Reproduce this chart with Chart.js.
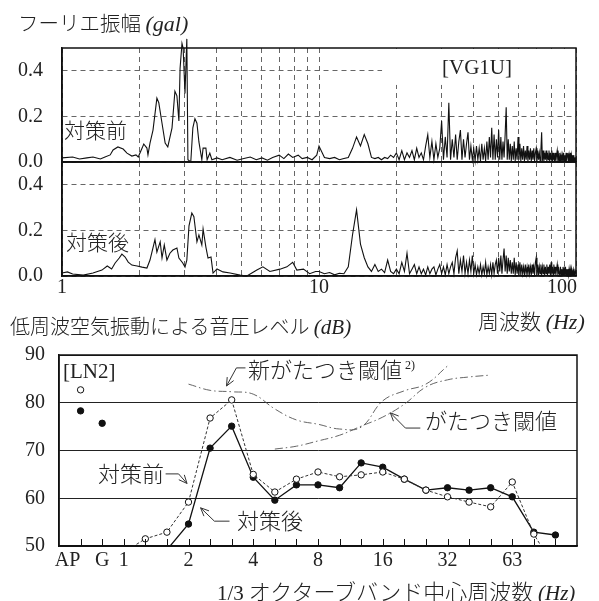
<!DOCTYPE html>
<html><head><meta charset="utf-8">
<script src="https://cdn.jsdelivr.net/npm/chart.js@4.4.0/dist/chart.umd.min.js"></script>
<style>
html,body{margin:0;padding:0;background:#fff;}
body{width:599px;height:601px;position:relative;overflow:hidden;}
canvas{position:absolute;left:0;}
.t{position:absolute;white-space:nowrap;color:#222;font-family:"Noto Sans CJK JP",sans-serif;font-weight:300;line-height:1;}
.i{font-family:"Liberation Serif",serif;font-style:italic;}
.n{font-family:"Liberation Serif",serif;}
</style></head><body>
<canvas id="c1" width="599" height="178" style="top:0px"></canvas>
<canvas id="c2" width="599" height="160" style="top:140px"></canvas>
<canvas id="c3" width="599" height="271" style="top:330px"></canvas>

<div class="t" style="left:18px;top:12px;font-size:20.5px">フーリエ振幅 <span class="i" style="font-size:22px">(gal)</span></div>
<div class="t" style="left:64px;top:119px;font-size:21px">対策前</div>
<div class="t" style="left:66px;top:231px;font-size:21px">対策後</div>
<div class="t n" style="left:442px;top:57px;font-size:21px">[VG1U]</div>
<div class="t" style="left:478px;top:310px;font-size:21px">周波数 <span class="i" style="font-size:22px">(Hz)</span></div>
<div class="t" style="left:10px;top:316px;font-size:20px">低周波空気振動による音圧レベル <span class="i" style="font-size:21px">(dB)</span></div>
<div class="t n" style="left:63px;top:361px;font-size:21px">[LN2]</div>
<div class="t" style="left:248px;top:357px;font-size:22px">新がたつき閾値<span class="n" style="font-size:12px;position:relative;top:-9px;margin-left:3px">2)</span></div>
<div class="t" style="left:425px;top:408px;font-size:22px">がたつき閾値</div>
<div class="t" style="left:98px;top:461px;font-size:22px">対策前</div>
<div class="t" style="left:237px;top:508px;font-size:22px">対策後</div>
<div class="t" style="left:217px;top:579px;font-size:22px"><span class="n" style="font-size:21px">1/3</span> オクターブバンド中心周波数 <span class="i" style="font-size:21px">(Hz)</span></div>

<script>
// ---------- Fourier spectrum data (gal) ----------
const logGridHz = [1,2,3,4,5,6,7,8,9,10,20,30,40,50,60,70,80,90,100];
const freqTickLabels = [1, 10, 100];
const ampTicks = [0, 0.2, 0.4];
const hiStartHz = 10;     // dense part sampled at a fixed step
const hiStepHz = 0.5;

// before countermeasure (対策前), 1-10 Hz
const lowFreqBefore = [1.0,1.1,1.17,1.25,1.32,1.41,1.47,1.54,1.58,1.65,
  1.73,1.79,1.87,1.94,1.98,2.05,2.08,2.14,2.16,2.2,
  2.26,2.34,2.38,2.45,2.52,2.58,2.68,2.75,2.8,2.85,
  2.88,2.93,2.96,3.01,3.06,3.09,3.17,3.23,3.29,3.35,
  3.41,3.5,3.54,3.63,3.67,3.76,3.83,4.01,4.2,4.5,
  4.8,5.1,5.4,5.7,6.0,6.3,6.6,7.0,7.3,7.6,
  7.9,8.3,8.6,9.0,9.4,9.8];
const lowAmpBefore = [.018,.022,.013,.018,.022,.013,.022,.031,.053,.066,
  .057,.039,.026,.031,.022,.061,.079,.061,.031,.083,
  .14,.28,.26,.17,.083,.066,.15,.31,.29,.18,
  .41,.52,.50,.30,.54,.01,0,.15,.19,.17,
  .088,.01,.061,.061,.01,.039,.01,.018,.01,.02,
  .008,.015,.022,.01,.018,.008,.02,.03,.015,.035,
  .02,.03,.015,.02,.01,.03];
// before, 10-100 Hz every 0.5 Hz
const hiAmpBefore = [
  .07,.02,.015,.02,.01,.015,.02,.06,.11,.07,
  .12,.08,.02,.015,.02,.01,.02,.015,.03,.02,
  .04,.01,.05,.01,.04,.02,.05,.01,.06,.02,
  .04,.01,.07,.12,.02,.09,.01,.08,.02,.06,
  .18,.01,.11,.02,.26,.01,.10,.02,.12,.01,
  .09,.14,.01,.10,.02,.08,.13,.01,.07,.01,
  .06,.005,.07,.01,.06,.005,.08,.01,.06,.005,
  .09,.01,.11,.02,.15,.01,.12,.01,.10,.02,
  .14,.01,.11,.01,.09,.02,.12,.24,.01,.10,
  .01,.08,.005,.07,.01,.09,.005,.06,.01,.11,
  .01,.08,.005,.06,.01,.07,.005,.05,.01,.07,
  .005,.05,.01,.06,.005,.05,.01,.06,.005,.04,
  .06,.005,.05,.01,.04,.005,.05,.13,.005,.05,
  .005,.04,.01,.05,.005,.04,.01,.05,.005,.04,
  .01,.05,.005,.04,.01,.005,.04,.005,.03,.05,
  .005,.03,.005,.04,.005,.03,.005,.03,.005,.04,
  .005,.03,.005,.04,.005,.03,.04,.005,.03,.005,
  .04,.005,.03,.005,.03,.005,.03,.005,.02,.005,
  .02];

// after countermeasure (対策後), 1-10 Hz
const lowFreqAfter = [1.0,1.05,1.1,1.21,1.32,1.43,1.5,1.56,1.61,1.67,
  1.71,1.76,1.81,1.87,1.96,2.05,2.14,2.2,2.3,2.34,
  2.41,2.45,2.5,2.56,2.63,2.7,2.8,2.85,2.95,3.01,
  3.06,3.12,3.2,3.26,3.35,3.41,3.5,3.54,3.63,3.7,
  3.8,3.87,4.01,4.23,4.51,4.93,5.24,5.48,5.73,6.05,
  6.44,7.05,7.5,7.9,8.2,8.7,9.2,9.7];
const lowAmpAfter = [.013,.018,.009,.004,.013,.026,.044,.031,.057,.079,
  .096,.083,.061,.048,.044,.039,.035,.07,.16,.105,
  .15,.079,.136,.07,.10,.114,.123,.079,.057,.039,
  .07,.22,.276,.26,.15,.18,.136,.206,.127,.079,
  .083,.013,.031,.018,.013,.004,0,.013,.026,.04,
  .02,.03,.04,.06,.026,.03,.01,.02];
// after, 10-100 Hz every 0.5 Hz
const hiAmpAfter = [
  .02,.01,.015,.005,.012,.01,.04,.18,.29,.14,
  .08,.04,.02,.05,.02,.03,.015,.07,.02,.01,
  .03,.01,.06,.02,.10,.01,.03,.05,.01,.04,
  .01,.03,.005,.04,.01,.03,.04,.005,.03,.05,
  .01,.04,.005,.05,.01,.04,.06,.01,.08,.11,
  .01,.07,.02,.09,.01,.06,.01,.07,.02,.09,
  .01,.05,.005,.04,.01,.05,.005,.04,.01,.06,
  .005,.04,.01,.05,.005,.06,.01,.05,.07,.01,
  .08,.02,.09,.01,.07,.12,.02,.09,.01,.08,
  .02,.07,.01,.06,.01,.08,.005,.06,.01,.05,
  .005,.06,.005,.05,.01,.04,.005,.05,.01,.04,
  .005,.05,.01,.04,.005,.05,.01,.04,.005,.06,
  .08,.005,.05,.005,.04,.01,.05,.005,.04,.01,
  .05,.005,.04,.01,.05,.005,.04,.01,.05,.005,
  .06,.01,.04,.005,.05,.01,.04,.005,.03,.05,
  .005,.04,.01,.005,.04,.005,.03,.005,.04,.005,
  .03,.005,.04,.005,.03,.005,.03,.005,.03,.005,
  .03,.005,.03,.005,.02,.03,.005,.02,.005,.02,
  .01];

// ---------- 1/3 octave band sound pressure level (dB) ----------
const overallCats = ['AP','G'];
const overallBefore = [82.7, null];
const overallAfter = [78.3, 75.7];
const bandHz = ['1','1.25','1.6','2','2.5','3.15','4','5','6.3','8','10','12.5','16','20','25','31.5','40','50','63','80','100'];
const levelBefore = [48.7,51.5,52.9,59.2,76.8,80.6,65.0,61.3,64.0,65.5,64.5,64.9,65.5,64.0,61.7,60.3,59.2,58.2,63.4,52.5,45.0];
const levelAfter  = [null,null,49.2,54.6,70.5,75.1,64.4,59.6,62.8,62.8,62.2,67.4,66.5,64.0,61.7,62.2,61.7,62.2,60.3,52.9,52.3];
const newThreshold = [null,null,null,83.9,82.6,82.3,81.8,78.7,76.4,75.5,74.5,74.9,80.4,82.5,83.9,87.7,null,null,null,null,null];
const oldThreshold = [null,null,null,null,null,null,null,70.3,70.9,72.0,73.2,75.1,77.0,79.7,83.3,84.8,85.4,85.8,null,null,null];
const xTickLabels = ['AP','G','1','','','2','','','4','','','8','','','16','','','32','','','63','',''];
const levelTicks = [50,60,70,80,90];

const SERIF = '"Liberation Serif", "Times New Roman", serif';

function framePlugin(){
  return {id:'frame', afterDraw(chart){
    const a = chart.chartArea, c = chart.ctx;
    c.save(); c.strokeStyle='#111'; c.lineWidth=1.5;
    c.strokeRect(a.left, a.top, a.right-a.left, a.bottom-a.top);
    c.restore();
  }};
}

// y tick labels of the spectrum panels
const ampLabels = {id:'ampLabels', afterDraw(chart){
  const ys = chart.scales.y, a = chart.chartArea, c = chart.ctx;
  c.save(); c.fillStyle='#222'; c.font='20px '+SERIF; c.textAlign='right'; c.textBaseline='middle';
  ampTicks.forEach(v=>{ c.fillText(v.toFixed(1), a.left-19, ys.getPixelForValue(v)); });
  c.restore();
}};

function makeSpectrum(id, lowF, lowA, hiA, padTop, padBottom, xAxisH, extraPlugins){
  const pts = lowF.map((f,i)=>({x:f, y:lowA[i]}))
    .concat(hiA.map((a,i)=>({x:hiStartHz + i*hiStepHz, y:a})));
  return new Chart(document.getElementById(id), {
    type:'line',
    data:{datasets:[{data:pts, borderColor:'#111', borderWidth:1.1, pointRadius:0, tension:0, clip:false}]},
    options:{
      responsive:false, animation:false, events:[],
      layout:{padding:{left:0, right:23, top:padTop, bottom:padBottom}},
      plugins:{legend:{display:false}, tooltip:{enabled:false}},
      scales:{
        x:{type:'logarithmic', min:1, max:100,
          afterBuildTicks:s=>{ s.ticks = logGridHz.map(v=>({value:v})); },
          ticks:{display:false},
          grid:{color:'#666', lineWidth:1, drawTicks:false},
          border:{display:true, color:'#111', width:1.5, dash:[5,4]},
          afterFit:s=>{ s.height = xAxisH; }},
        y:{type:'linear', min:0, max:0.5,
          afterBuildTicks:s=>{ s.ticks = ampTicks.map(v=>({value:v})); },
          ticks:{display:false},
          grid:{color:'#666', lineWidth:1, drawTicks:false},
          border:{display:true, color:'#111', width:1.5, dash:[5,4]},
          afterFit:s=>{ s.width = 62; }}
      }
    },
    plugins:[framePlugin(), ampLabels].concat(extraPlugins||[])
  });
}

// mask behind the [VG1U] label (upper right of the first panel)
const vgMask = {id:'vgMask', beforeDatasetsDraw(chart){
  const xs = chart.scales.x, ys = chart.scales.y, a = chart.chartArea, c = chart.ctx;
  const x0 = xs.getPixelForValue(17.6), y1 = ys.getPixelForValue(0.338);
  c.save(); c.fillStyle='#fff';
  c.fillRect(x0, a.top+1, a.right-x0-1, y1-a.top-1);
  c.restore();
}};

const freqLabels = {id:'freqLabels', afterDraw(chart){
  const xs = chart.scales.x, a = chart.chartArea, c = chart.ctx;
  c.save(); c.fillStyle='#222'; c.font='20px '+SERIF; c.textBaseline='middle';
  freqTickLabels.forEach((v,i)=>{
    const last = i === freqTickLabels.length-1;
    c.textAlign = last ? 'right' : 'center';
    c.fillText(String(v), xs.getPixelForValue(v) + (last ? 1 : 0), a.bottom + 12);
  });
  c.restore();
}};

makeSpectrum('c1', lowFreqBefore, lowAmpBefore, hiAmpBefore, 48, 16, 0, [vgMask]);
makeSpectrum('c2', lowFreqAfter, lowAmpAfter, hiAmpAfter, 22, 0, 24, [freqLabels]);

// ---------- bottom chart ----------
const bandExtras = {id:'bandExtras', afterDraw(chart){
  const xs = chart.scales.x, ys = chart.scales.y, a = chart.chartArea, c = chart.ctx;
  c.save();
  // inner tick marks
  c.strokeStyle='#111'; c.lineWidth=1;
  xTickLabels.forEach((lab,i)=>{
    const x = Math.round(xs.getPixelForValue(i))+0.5;
    c.beginPath(); c.moveTo(x, a.bottom); c.lineTo(x, a.bottom-7); c.stroke();
  });
  // tick labels
  c.fillStyle='#222'; c.font='20px '+SERIF; c.textAlign='center'; c.textBaseline='middle';
  xTickLabels.forEach((lab,i)=>{
    if(!lab) return;
    const dx = i===0 ? -13 : 0;
    c.fillText(lab, xs.getPixelForValue(i)+dx, a.bottom+15);
  });
  // leader arrows for annotations (band index / dB coordinates)
  const leaders = [
    [[7.64,87.3],[7.22,87.3],[6.76,83.5]],
    [[15.74,74.7],[15.05,74.7],[14.35,77.9]],
    [[3.94,65.1],[4.54,65.1],[4.93,63.1]],
    [[6.90,55.2],[6.20,55.2],[5.56,58.0]]
  ];
  c.strokeStyle='#333'; c.lineWidth=1;
  leaders.forEach(L=>{
    const p = L.map(q=>[xs.getPixelForValue(q[0]), ys.getPixelForValue(q[1])]);
    c.beginPath(); c.moveTo(p[0][0],p[0][1]); c.lineTo(p[1][0],p[1][1]); c.lineTo(p[2][0],p[2][1]); c.stroke();
    const ang = Math.atan2(p[2][1]-p[1][1], p[2][0]-p[1][0]);
    const len = 9, spread = 0.42;
    c.beginPath();
    c.moveTo(p[2][0]-len*Math.cos(ang-spread), p[2][1]-len*Math.sin(ang-spread));
    c.lineTo(p[2][0], p[2][1]);
    c.lineTo(p[2][0]-len*Math.cos(ang+spread), p[2][1]-len*Math.sin(ang+spread));
    c.stroke();
  });
  c.restore();
}};

const radiusAbove = ctx => (ctx.raw && ctx.raw.y !== null && ctx.raw.y >= 50) ? 3.2 : 0;
const bandPts = arr => arr.map((v,i)=>({x:i+overallCats.length, y:v}));

new Chart(document.getElementById('c3'), {
  type:'line',
  data:{datasets:[
    {data:bandPts(newThreshold), borderColor:'#555', borderWidth:0.9, borderDash:[8,3,1.5,3], pointRadius:0, tension:0.4},
    {data:bandPts(oldThreshold), borderColor:'#555', borderWidth:0.9, borderDash:[8,3,1.5,3], pointRadius:0, tension:0.4},
    {data:bandPts(levelBefore), borderColor:'#333', borderWidth:1, borderDash:[3,2], tension:0,
      pointRadius:radiusAbove, pointBackgroundColor:'#fff', pointBorderColor:'#111', pointBorderWidth:1},
    {data:bandPts(levelAfter), borderColor:'#111', borderWidth:1.3, tension:0,
      pointRadius:radiusAbove, pointBackgroundColor:'#111', pointBorderColor:'#111', pointBorderWidth:1},
    {data:overallBefore.map((v,i)=>({x:i,y:v})), showLine:false,
      pointRadius:radiusAbove, pointBackgroundColor:'#fff', pointBorderColor:'#111', pointBorderWidth:1},
    {data:overallAfter.map((v,i)=>({x:i,y:v})), showLine:false,
      pointRadius:radiusAbove, pointBackgroundColor:'#111', pointBorderColor:'#111', pointBorderWidth:1}
  ]},
  options:{
    responsive:false, animation:false, events:[],
    layout:{padding:{left:0, right:22, top:25, bottom:0}},
    plugins:{legend:{display:false}, tooltip:{enabled:false}},
    scales:{
      x:{type:'linear', min:-1, max:23,
        ticks:{display:false}, grid:{display:false},
        border:{display:true, color:'#111', width:1.5},
        afterFit:s=>{ s.height = 55; }},
      y:{type:'linear', min:50, max:90,
        afterBuildTicks:s=>{ s.ticks = levelTicks.map(v=>({value:v})); },
        ticks:{font:{family:SERIF, size:20}, color:'#222', padding:0},
        grid:{color:'#222', lineWidth:1, drawTicks:true, tickLength:14, tickColor:'rgba(0,0,0,0)'},
        border:{display:true, color:'#111', width:1.5},
        afterFit:s=>{ s.width = 59; }}
    }
  },
  plugins:[framePlugin(), bandExtras]
});
</script>
</body></html>
